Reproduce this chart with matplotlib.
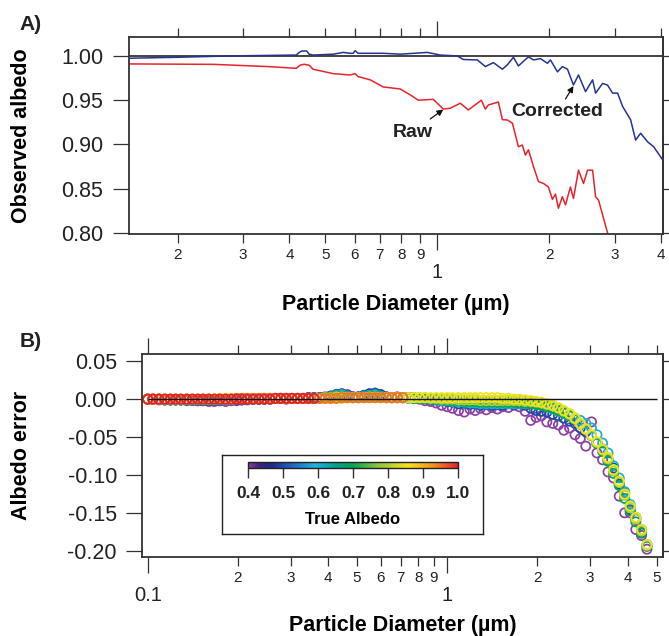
import matplotlib
matplotlib.use('Agg')
import matplotlib.pyplot as plt
from matplotlib.colors import LinearSegmentedColormap, Normalize
from matplotlib.ticker import FormatStrFormatter, NullFormatter, NullLocator
import matplotlib.cm as cm

# ---------------- Panel A data ----------------
corr_d = [0.148, 0.20, 0.275, 0.35, 0.417, 0.425, 0.432, 0.445, 0.452, 0.463,
          0.525, 0.558, 0.583, 0.594, 0.601, 0.612, 0.715, 0.795, 0.940, 1.019,
          1.132, 1.175, 1.282, 1.347, 1.416, 1.497, 1.544, 1.603, 1.653, 1.759,
          1.815, 1.895, 1.979, 2.016, 2.106, 2.171, 2.241, 2.325, 2.399, 2.506,
          2.618, 2.667, 2.786, 2.873, 2.964, 3.057, 3.153, 3.313, 3.418, 3.526,
          3.681, 3.821, 4.06]
corr_v = [0.9974, 0.9985, 1.000, 1.0006, 1.001, 1.004, 1.0056, 1.0056, 1.002, 1.001,
          1.002, 1.004, 1.003, 1.003, 1.006, 1.003, 1.003, 1.002, 1.004, 1.001,
          1.000, 0.996, 0.9955, 0.988, 0.9925, 0.985, 0.990, 0.9985, 0.9887, 0.999,
          0.9955, 0.997, 0.9917, 0.9955, 0.982, 0.988, 0.985, 0.9672, 0.9785, 0.9597,
          0.973, 0.958, 0.969, 0.967, 0.958, 0.958, 0.943, 0.928, 0.905, 0.9127,
          0.903, 0.8975, 0.8815]
raw_d = [0.148, 0.25, 0.35, 0.417, 0.427, 0.438, 0.452, 0.463, 0.525, 0.583,
         0.601, 0.612, 0.660, 0.715, 0.795, 0.846, 0.889, 0.975, 1.038, 1.084,
         1.153, 1.212, 1.314, 1.347, 1.372, 1.460, 1.497, 1.544, 1.593, 1.653,
         1.694, 1.726, 1.759, 1.815, 1.872, 1.931, 1.991, 2.041, 2.080, 2.118,
         2.171, 2.213, 2.282, 2.325, 2.399, 2.475, 2.537, 2.618, 2.667, 2.717,
         2.873, 2.95]
raw_v = [0.991, 0.9905, 0.988, 0.986, 0.9895, 0.9906, 0.9895, 0.985, 0.980, 0.9785,
         0.980, 0.9767, 0.973, 0.965, 0.9627, 0.956, 0.950, 0.951, 0.940, 0.941,
         0.9466, 0.939, 0.950, 0.940, 0.9446, 0.948, 0.928, 0.9277, 0.924, 0.8975,
         0.8994, 0.888, 0.894, 0.875, 0.858, 0.856, 0.852, 0.838, 0.844, 0.828,
         0.841, 0.8317, 0.852, 0.839, 0.871, 0.856, 0.871, 0.871, 0.841, 0.837,
         0.800, 0.785]

# ---------------- Panel B data ----------------
diam = [0.100, 0.104, 0.109, 0.114, 0.119, 0.124, 0.129, 0.135, 0.141, 0.147,
        0.153, 0.160, 0.167, 0.174, 0.182, 0.190, 0.198, 0.206, 0.215, 0.225,
        0.235, 0.245, 0.256, 0.267, 0.278, 0.290, 0.303, 0.316, 0.330, 0.344,
        0.359, 0.375, 0.391, 0.408, 0.426, 0.445, 0.464, 0.484, 0.505, 0.528,
        0.550, 0.574, 0.599, 0.626, 0.653, 0.681, 0.711, 0.742, 0.774, 0.808,
        0.843, 0.880, 0.918, 0.958, 1.00, 1.04, 1.09, 1.14, 1.19, 1.24,
        1.29, 1.35, 1.41, 1.47, 1.53, 1.60, 1.67, 1.74, 1.82, 1.90,
        1.98, 2.06, 2.15, 2.25, 2.35, 2.45, 2.56, 2.67, 2.78, 2.90,
        3.03, 3.16, 3.30, 3.44, 3.59, 3.75, 3.91, 4.08, 4.26, 4.45,
        4.64]

err_040 = [0.000, 0.000, -0.001, -0.001, -0.001, -0.001, -0.001, -0.002, -0.002, -0.002,
           -0.002, -0.003, -0.003, -0.002, -0.003, -0.002, -0.002, -0.001, -0.001, 0.000,
           0.000, 0.000, 0.001, 0.001, 0.001, 0.000, 0.001, 0.001, 0.001, 0.002,
           0.002, 0.002, 0.003, 0.004, 0.006, 0.007, 0.006, 0.003, 0.003, 0.005,
           0.007, 0.007, 0.006, 0.003, 0.002, 0.003, 0.002, 0.002, 0.001, 0.000,
           -0.002, -0.003, -0.005, -0.008, -0.010, -0.012, -0.015, -0.017, -0.013, -0.015,
           -0.012, -0.014, -0.011, -0.013, -0.010, -0.011, -0.008, -0.010, -0.016, -0.028,
           -0.024, -0.022, -0.030, -0.032, -0.034, -0.041, -0.038, -0.047, -0.052, -0.062,
           -0.030, -0.071, -0.080, -0.096, -0.104, -0.128, -0.150, -0.150, -0.172, -0.180,
           -0.198]
err_050 = [0.000, 0.000, 0.000, -0.001, -0.001, -0.001, -0.001, -0.001, -0.001, -0.002,
           -0.002, -0.002, -0.002, -0.002, -0.001, -0.001, -0.001, -0.001, 0.000, 0.000,
           0.000, 0.000, 0.000, 0.001, 0.001, 0.001, 0.001, 0.001, 0.001, 0.002,
           0.002, 0.002, 0.002, 0.004, 0.006, 0.007, 0.005, 0.003, 0.003, 0.005,
           0.007, 0.008, 0.006, 0.003, 0.002, 0.002, 0.002, 0.002, 0.002, 0.001,
           0.001, 0.000, -0.001, -0.002, -0.003, -0.004, -0.006, -0.005, -0.007, -0.006,
           -0.008, -0.007, -0.008, -0.007, -0.008, -0.006, -0.007, -0.006, -0.008, -0.012,
           -0.015, -0.016, -0.017, -0.020, -0.022, -0.025, -0.029, -0.032, -0.038, -0.043,
           -0.048, -0.058, -0.066, -0.080, -0.091, -0.112, -0.124, -0.146, -0.158, -0.176,
           -0.194]
err_060 = [0.000, 0.000, 0.000, -0.001, -0.001, -0.001, -0.001, -0.001, -0.001, -0.001,
           -0.001, -0.001, -0.001, -0.001, -0.001, -0.001, 0.000, 0.000, 0.000, 0.000,
           0.000, 0.000, 0.000, 0.001, 0.001, 0.001, 0.001, 0.001, 0.001, 0.001,
           0.001, 0.001, 0.002, 0.003, 0.005, 0.006, 0.004, 0.002, 0.002, 0.004,
           0.005, 0.006, 0.004, 0.002, 0.002, 0.002, 0.002, 0.001, 0.001, 0.001,
           0.000, 0.000, -0.001, -0.002, -0.002, -0.003, -0.004, -0.004, -0.005, -0.005,
           -0.006, -0.006, -0.006, -0.006, -0.006, -0.006, -0.006, -0.006, -0.006, -0.006,
           -0.007, -0.008, -0.010, -0.013, -0.016, -0.019, -0.022, -0.025, -0.028, -0.032,
           -0.038, -0.047, -0.058, -0.071, -0.088, -0.104, -0.122, -0.139, -0.156, -0.172,
           -0.192]
err_070 = [0.000, 0.000, 0.000, 0.000, -0.001, -0.001, -0.001, -0.001, -0.001, -0.001,
           -0.001, -0.001, -0.001, 0.000, 0.000, 0.000, 0.000, 0.000, 0.000, 0.000,
           0.000, 0.001, 0.001, 0.001, 0.001, 0.001, 0.001, 0.001, 0.001, 0.001,
           0.001, 0.001, 0.002, 0.003, 0.004, 0.004, 0.003, 0.002, 0.002, 0.003,
           0.004, 0.004, 0.003, 0.002, 0.002, 0.002, 0.002, 0.002, 0.001, 0.001,
           0.001, 0.000, 0.000, -0.001, -0.001, -0.002, -0.002, -0.003, -0.003, -0.003,
           -0.004, -0.004, -0.004, -0.004, -0.004, -0.004, -0.004, -0.005, -0.005, -0.006,
           -0.007, -0.008, -0.010, -0.012, -0.015, -0.018, -0.022, -0.027, -0.033, -0.040,
           -0.048, -0.058, -0.069, -0.082, -0.098, -0.114, -0.131, -0.147, -0.162, -0.177,
           -0.194]
err_080 = [0.000, 0.000, 0.000, 0.000, 0.000, 0.000, 0.000, 0.000, 0.000, 0.000,
           0.000, 0.000, 0.000, 0.000, 0.000, 0.000, 0.001, 0.001, 0.001, 0.001,
           0.001, 0.001, 0.001, 0.001, 0.001, 0.001, 0.001, 0.001, 0.001, 0.001,
           0.001, 0.001, 0.002, 0.002, 0.003, 0.003, 0.002, 0.002, 0.002, 0.002,
           0.003, 0.003, 0.002, 0.002, 0.002, 0.002, 0.002, 0.002, 0.002, 0.002,
           0.002, 0.001, 0.001, 0.000, 0.000, 0.000, -0.001, -0.001, -0.001, -0.001,
           -0.002, -0.002, -0.002, -0.002, -0.002, -0.002, -0.002, -0.002, -0.003, -0.003,
           -0.004, -0.005, -0.007, -0.009, -0.012, -0.016, -0.020, -0.026, -0.033, -0.040,
           -0.048, -0.057, -0.067, -0.079, -0.095, -0.110, -0.127, -0.143, -0.158, -0.174,
           -0.193]
err_085 = [0.000, 0.000, 0.000, 0.000, 0.000, 0.000, 0.000, 0.000, 0.000, 0.000,
           0.000, 0.000, 0.000, 0.001, 0.001, 0.001, 0.001, 0.001, 0.001, 0.001,
           0.001, 0.001, 0.001, 0.001, 0.001, 0.001, 0.001, 0.001, 0.001, 0.001,
           0.001, 0.001, 0.001, 0.001, 0.001, 0.001, 0.002, 0.002, 0.002, 0.002,
           0.002, 0.002, 0.002, 0.002, 0.002, 0.002, 0.002, 0.002, 0.002, 0.002,
           0.002, 0.002, 0.002, 0.002, 0.002, 0.002, 0.002, 0.002, 0.002, 0.002,
           0.002, 0.002, 0.002, 0.002, 0.001, 0.001, 0.000, 0.000, -0.001, -0.002,
           -0.003, -0.004, -0.006, -0.008, -0.011, -0.015, -0.019, -0.025, -0.032, -0.039,
           -0.047, -0.056, -0.066, -0.077, -0.093, -0.108, -0.125, -0.141, -0.156, -0.172,
           -0.192]
err_095 = [0.000, 0.000, 0.000, 0.000, 0.000, 0.000, 0.000, 0.000, 0.000, 0.000,
           0.000, 0.000, 0.000, 0.000, 0.000, 0.000, 0.001, 0.001, 0.001, 0.001,
           0.001, 0.001, 0.001, 0.001, 0.001, 0.001, 0.001, 0.001, 0.001, 0.001,
           0.001, 0.001, 0.001, 0.001, 0.001, 0.002, 0.002, 0.002, 0.002, 0.002,
           0.002, 0.002, 0.002, 0.002, 0.002, 0.002, 0.002]
err_100 = [0.000, 0.000, 0.000, 0.000, 0.000, 0.000, 0.000, 0.000, 0.000, 0.000,
           0.000, 0.000, 0.000, 0.000, 0.000, 0.000, 0.000, 0.000, 0.000, 0.000,
           0.000, 0.000, 0.000, 0.001, 0.001, 0.001, 0.001, 0.001, 0.001, 0.001,
           0.001]

albedo_series = [(0.40, err_040), (0.50, err_050), (0.60, err_060), (0.70, err_070),
                 (0.80, err_080), (0.85, err_085), (0.95, err_095), (1.00, err_100)]

# ---------------- ticks / labels ----------------
A_yticks = [0.80, 0.85, 0.90, 0.95, 1.00]
B_yticks = [-0.20, -0.15, -0.10, -0.05, 0.00, 0.05]
A_xmaj, A_xmaj_lab = [1.0], ['1']
A_xmin = [0.2, 0.3, 0.4, 0.5, 0.6, 0.7, 0.8, 0.9, 2, 3, 4]
A_xmin_lab = ['2', '3', '4', '5', '6', '7', '8', '9', '2', '3', '4']
B_xmaj, B_xmaj_lab = [0.1, 1.0], ['0.1', '1']
B_xmin = [0.2, 0.3, 0.4, 0.5, 0.6, 0.7, 0.8, 0.9, 2, 3, 4, 5]
B_xmin_lab = ['2', '3', '4', '5', '6', '7', '8', '9', '2', '3', '4', '5']
cb_ticks = [0.4, 0.5, 0.6, 0.7, 0.8, 0.9, 1.0]
cb_labels = ['0.4', '0.5', '0.6', '0.7', '0.8', '0.9', '1.0']

plt.rcParams['font.family'] = ['Liberation Sans', 'DejaVu Sans']
plt.rcParams['axes.unicode_minus'] = False
TXT = '#222222'
SP = '#333333'
plt.rcParams['text.color'] = TXT
plt.rcParams['xtick.color'] = SP
plt.rcParams['ytick.color'] = SP
plt.rcParams['xtick.labelcolor'] = TXT
plt.rcParams['ytick.labelcolor'] = TXT

W, H = 669, 636
fig = plt.figure(figsize=(W / 100, H / 100), dpi=100)


def px_rect(l, t, r, b):
    return [l / W, 1 - b / H, (r - l) / W, (b - t) / H]


def style(ax, xlim, ylim, yticks, xmaj, xmaj_lab, xmin, xmin_lab, ypad):
    ax.set_xscale('log')
    ax.set_xlim(xlim)
    ax.set_ylim(ylim)
    ax.set_yticks(yticks)
    ax.yaxis.set_major_formatter(FormatStrFormatter('%.2f'))
    ax.yaxis.set_minor_locator(NullLocator())
    ax.set_xticks(xmaj, labels=xmaj_lab)
    ax.set_xticks(xmin, labels=xmin_lab, minor=True)
    ax.tick_params(axis='x', which='both', direction='out', top=True, bottom=True,
                   width=0.9)
    ax.tick_params(axis='x', which='major', length=11.5, pad=9.5, labelsize=14.5)
    ax.tick_params(axis='x', which='minor', length=6.5, pad=3.6, labelsize=11)
    ax.tick_params(axis='y', which='major', direction='out', length=11.5, width=0.9,
                   pad=ypad, labelsize=15.5, left=True, right=False)
    for s in ax.spines.values():
        s.set_color(SP)
        s.set_linewidth(1.3)
    sec = ax.secondary_yaxis('right')
    sec.set_yticks(yticks)
    sec.yaxis.set_major_formatter(NullFormatter())
    sec.yaxis.set_minor_locator(NullLocator())
    sec.tick_params(length=4.3, width=0.9, direction='out')
    sec.spines['right'].set_color(SP)
    sec.spines['right'].set_linewidth(1.3)


# ---------------- Panel A ----------------
axA = fig.add_axes(px_rect(129, 37, 663, 234))
style(axA, (0.148, 4.05), (0.7989, 1.0214), A_yticks, A_xmaj, A_xmaj_lab,
      A_xmin, A_xmin_lab, 7)
axA.axhline(1.0, color='#111111', lw=1.1, zorder=1)
axA.plot(raw_d, raw_v, color='#e8242c', lw=1.1, zorder=2)
axA.plot(corr_d, corr_v, color='#26348f', lw=1.1, zorder=3)
arrow = dict(arrowstyle='-|>', color='#111111', lw=0.9, mutation_scale=9,
             shrinkA=0, shrinkB=0)
axA.annotate('', xy=(1.038, 0.9395), xytext=(0.957, 0.9288), arrowprops=arrow)
axA.annotate('', xy=(2.325, 0.966), xytext=(2.213, 0.9514), arrowprops=arrow)
axA.text(0.861, 0.9141, 'Raw', ha='center', va='center', fontsize=14, fontweight='bold')
axA.text(2.106, 0.9367, 'Corrected', ha='center', va='center', fontsize=14,
         fontweight='bold')
axA.set_xlabel('Particle Diameter (µm)', fontsize=15.5, fontweight='bold')
axA.xaxis.set_label_coords(0.5, -0.360)
axA.xaxis.label.set_va('center')
axA.set_ylabel('Observed albedo', fontsize=15.5, fontweight='bold')
axA.yaxis.set_label_coords(-0.201, 0.5)
axA.yaxis.label.set_va('center')

# ---------------- Panel B ----------------
cmap = LinearSegmentedColormap.from_list('igor_rainbow', [
    (0.00, '#8e3fa6'), (0.05, '#3a2478'), (0.12, '#1c2c8c'), (0.20, '#1f5fc0'),
    (0.32, '#1fb0e0'), (0.42, '#00a090'), (0.50, '#00a650'), (0.62, '#8cc63f'),
    (0.76, '#f5e31b'), (0.88, '#f59520'), (1.00, '#e5202a')])
norm = Normalize(0.4, 1.0)

axB = fig.add_axes(px_rect(141.7, 354, 663, 557))
style(axB, (0.0955, 5.25), (-0.2083, 0.0596), B_yticks, B_xmaj, B_xmaj_lab,
      B_xmin, B_xmin_lab, 6.3)
axB.hlines(0.0, diam[0], 5.0, color='#111111', lw=1.0, zorder=3)
for alb, err in albedo_series:
    axB.scatter(diam[:len(err)], err, s=44, facecolors='none',
                edgecolors=[cmap(norm(alb))], linewidths=1.25, zorder=2)
axB.set_xlabel('Particle Diameter (µm)', fontsize=15.5, fontweight='bold')
axB.xaxis.set_label_coords(0.5, -0.335)
axB.xaxis.label.set_va('center')
axB.set_ylabel('Albedo error', fontsize=15.5, fontweight='bold')
axB.yaxis.set_label_coords(-0.230, 0.5)
axB.yaxis.label.set_va('center')

# colour scale box
boxax = fig.add_axes(px_rect(221.7, 455, 483.3, 534.3))
boxax.set_xticks([])
boxax.set_yticks([])
boxax.set_facecolor('white')
for s in boxax.spines.values():
    s.set_color(TXT)
    s.set_linewidth(1.0)

cax = fig.add_axes(px_rect(248, 462, 458, 468))
cb = fig.colorbar(cm.ScalarMappable(norm=norm, cmap=cmap), cax=cax,
                  orientation='horizontal')
cb.set_ticks(cb_ticks, labels=cb_labels, fontsize=12.5, fontweight='bold')
cb.minorticks_off()
cax.tick_params(length=7.2, width=1.0, pad=5.5, direction='out', color=SP)
cb.outline.set_linewidth(1.0)
cb.outline.set_edgecolor(TXT)
cb.set_label('True Albedo', fontsize=12, fontweight='bold')
cax.xaxis.set_label_coords(0.5, -8.5)
cax.xaxis.label.set_va('center')

fig.text(31 / W, 1 - 25 / H, 'A)', ha='center', va='center', fontsize=15,
         fontweight='bold')
fig.text(31 / W, 1 - 341.5 / H, 'B)', ha='center', va='center', fontsize=15,
         fontweight='bold')

fig.savefig('out.png', dpi=100)
